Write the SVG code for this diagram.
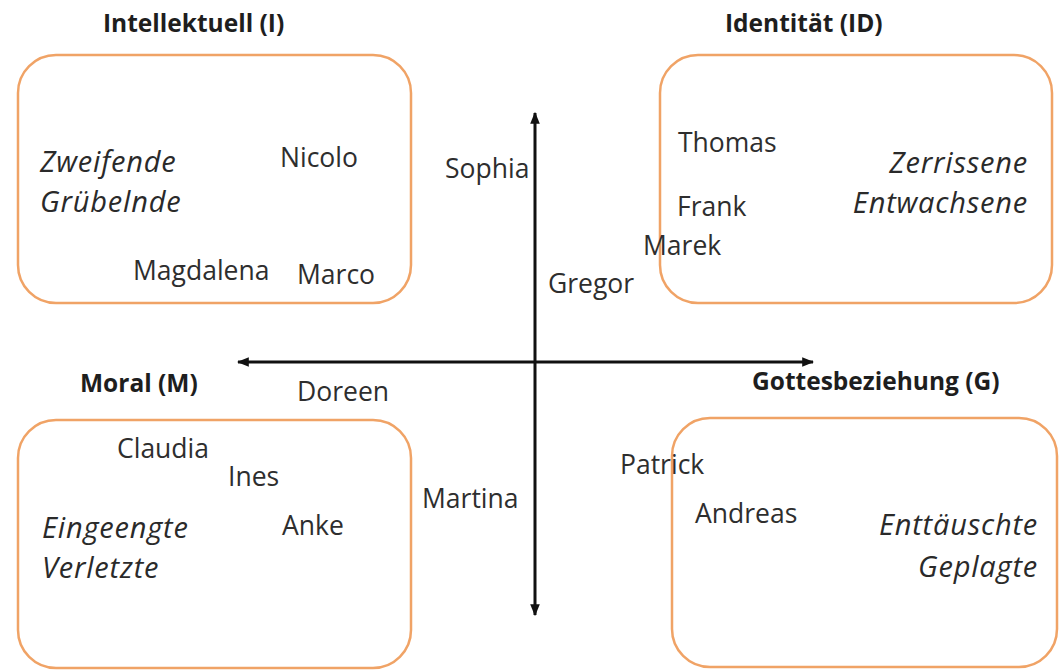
<svg xmlns="http://www.w3.org/2000/svg" width="1059" height="671" viewBox="0 0 1059 671">
  <style>
    .box { fill: #ffffff; stroke: #f0a366; stroke-width: 2.5; }
    .head { font-family: "Open Sans", "Liberation Sans", sans-serif; font-weight: bold; font-size: 24.5px; fill: #1e1e1e; }
    .name { font-family: "Open Sans", "Liberation Sans", sans-serif; font-size: 26.5px; fill: #2e2e2e; }
    .type { font-family: "Open Sans", "Liberation Sans", sans-serif; font-style: italic; font-size: 29px; letter-spacing: 0.8px; fill: #2a2a2a; }
    .axis { stroke: #111111; stroke-width: 3; fill: none; }
  </style>
  <defs>
    <marker id="tip" viewBox="0 0 10 10" refX="9" refY="5" markerWidth="4" markerHeight="4" orient="auto-start-reverse" markerUnits="strokeWidth">
      <path d="M0,1 L10,5 L0,9 Z" fill="#111111"/>
    </marker>
  </defs>
  <rect width="1059" height="671" fill="#ffffff"/>

  <!-- quadrant boxes -->
  <g id="quadrant-intellektuell">
    <rect class="box" x="18" y="55" width="393" height="248" rx="38"/>
    <text class="head" x="103" y="32">Intellektuell (I)</text>
    <text class="type" x="40" y="172">Zweifende</text>
    <text class="type" x="40" y="212">Grübelnde</text>
    <text class="name" x="280" y="167">Nicolo</text>
    <text class="name" x="133" y="280">Magdalena</text>
    <text class="name" x="297" y="284">Marco</text>
  </g>

  <g id="quadrant-identitaet">
    <rect class="box" x="660" y="55" width="392" height="248" rx="38"/>
    <text class="head" x="725" y="32">Identität (ID)</text>
    <text class="name" x="678" y="152">Thomas</text>
    <text class="name" x="677" y="216">Frank</text>
    <text class="name" x="643" y="255">Marek</text>
    <text class="type" x="1028" y="173" text-anchor="end">Zerrissene</text>
    <text class="type" x="1028" y="213" text-anchor="end">Entwachsene</text>
  </g>

  <g id="quadrant-moral">
    <rect class="box" x="18" y="420" width="393" height="248" rx="38"/>
    <text class="head" x="80" y="392">Moral (M)</text>
    <text class="name" x="117" y="458">Claudia</text>
    <text class="name" x="228" y="486">Ines</text>
    <text class="name" x="282" y="535">Anke</text>
    <text class="type" x="42" y="538">Eingeengte</text>
    <text class="type" x="42" y="578">Verletzte</text>
  </g>

  <g id="quadrant-gottesbeziehung">
    <rect class="box" x="672" y="418" width="385" height="249" rx="38"/>
    <text class="head" x="752" y="390">Gottesbeziehung (G)</text>
    <text class="name" x="695" y="523">Andreas</text>
    <text class="type" x="1038" y="535" text-anchor="end">Enttäuschte</text>
    <text class="type" x="1038" y="577" text-anchor="end">Geplagte</text>
  </g>

  <!-- axes -->
  <g id="axes">
    <line class="axis" x1="535" y1="615" x2="535" y2="113" marker-start="url(#tip)" marker-end="url(#tip)"/>
    <line class="axis" x1="238" y1="362" x2="813" y2="362" marker-start="url(#tip)" marker-end="url(#tip)"/>
  </g>

  <!-- names placed between the quadrants -->
  <g id="between">
    <text class="name" x="445" y="178">Sophia</text>
    <text class="name" x="548" y="293">Gregor</text>
    <text class="name" x="297" y="401">Doreen</text>
    <text class="name" x="422" y="508">Martina</text>
    <text class="name" x="620" y="474">Patrick</text>
  </g>
</svg>
